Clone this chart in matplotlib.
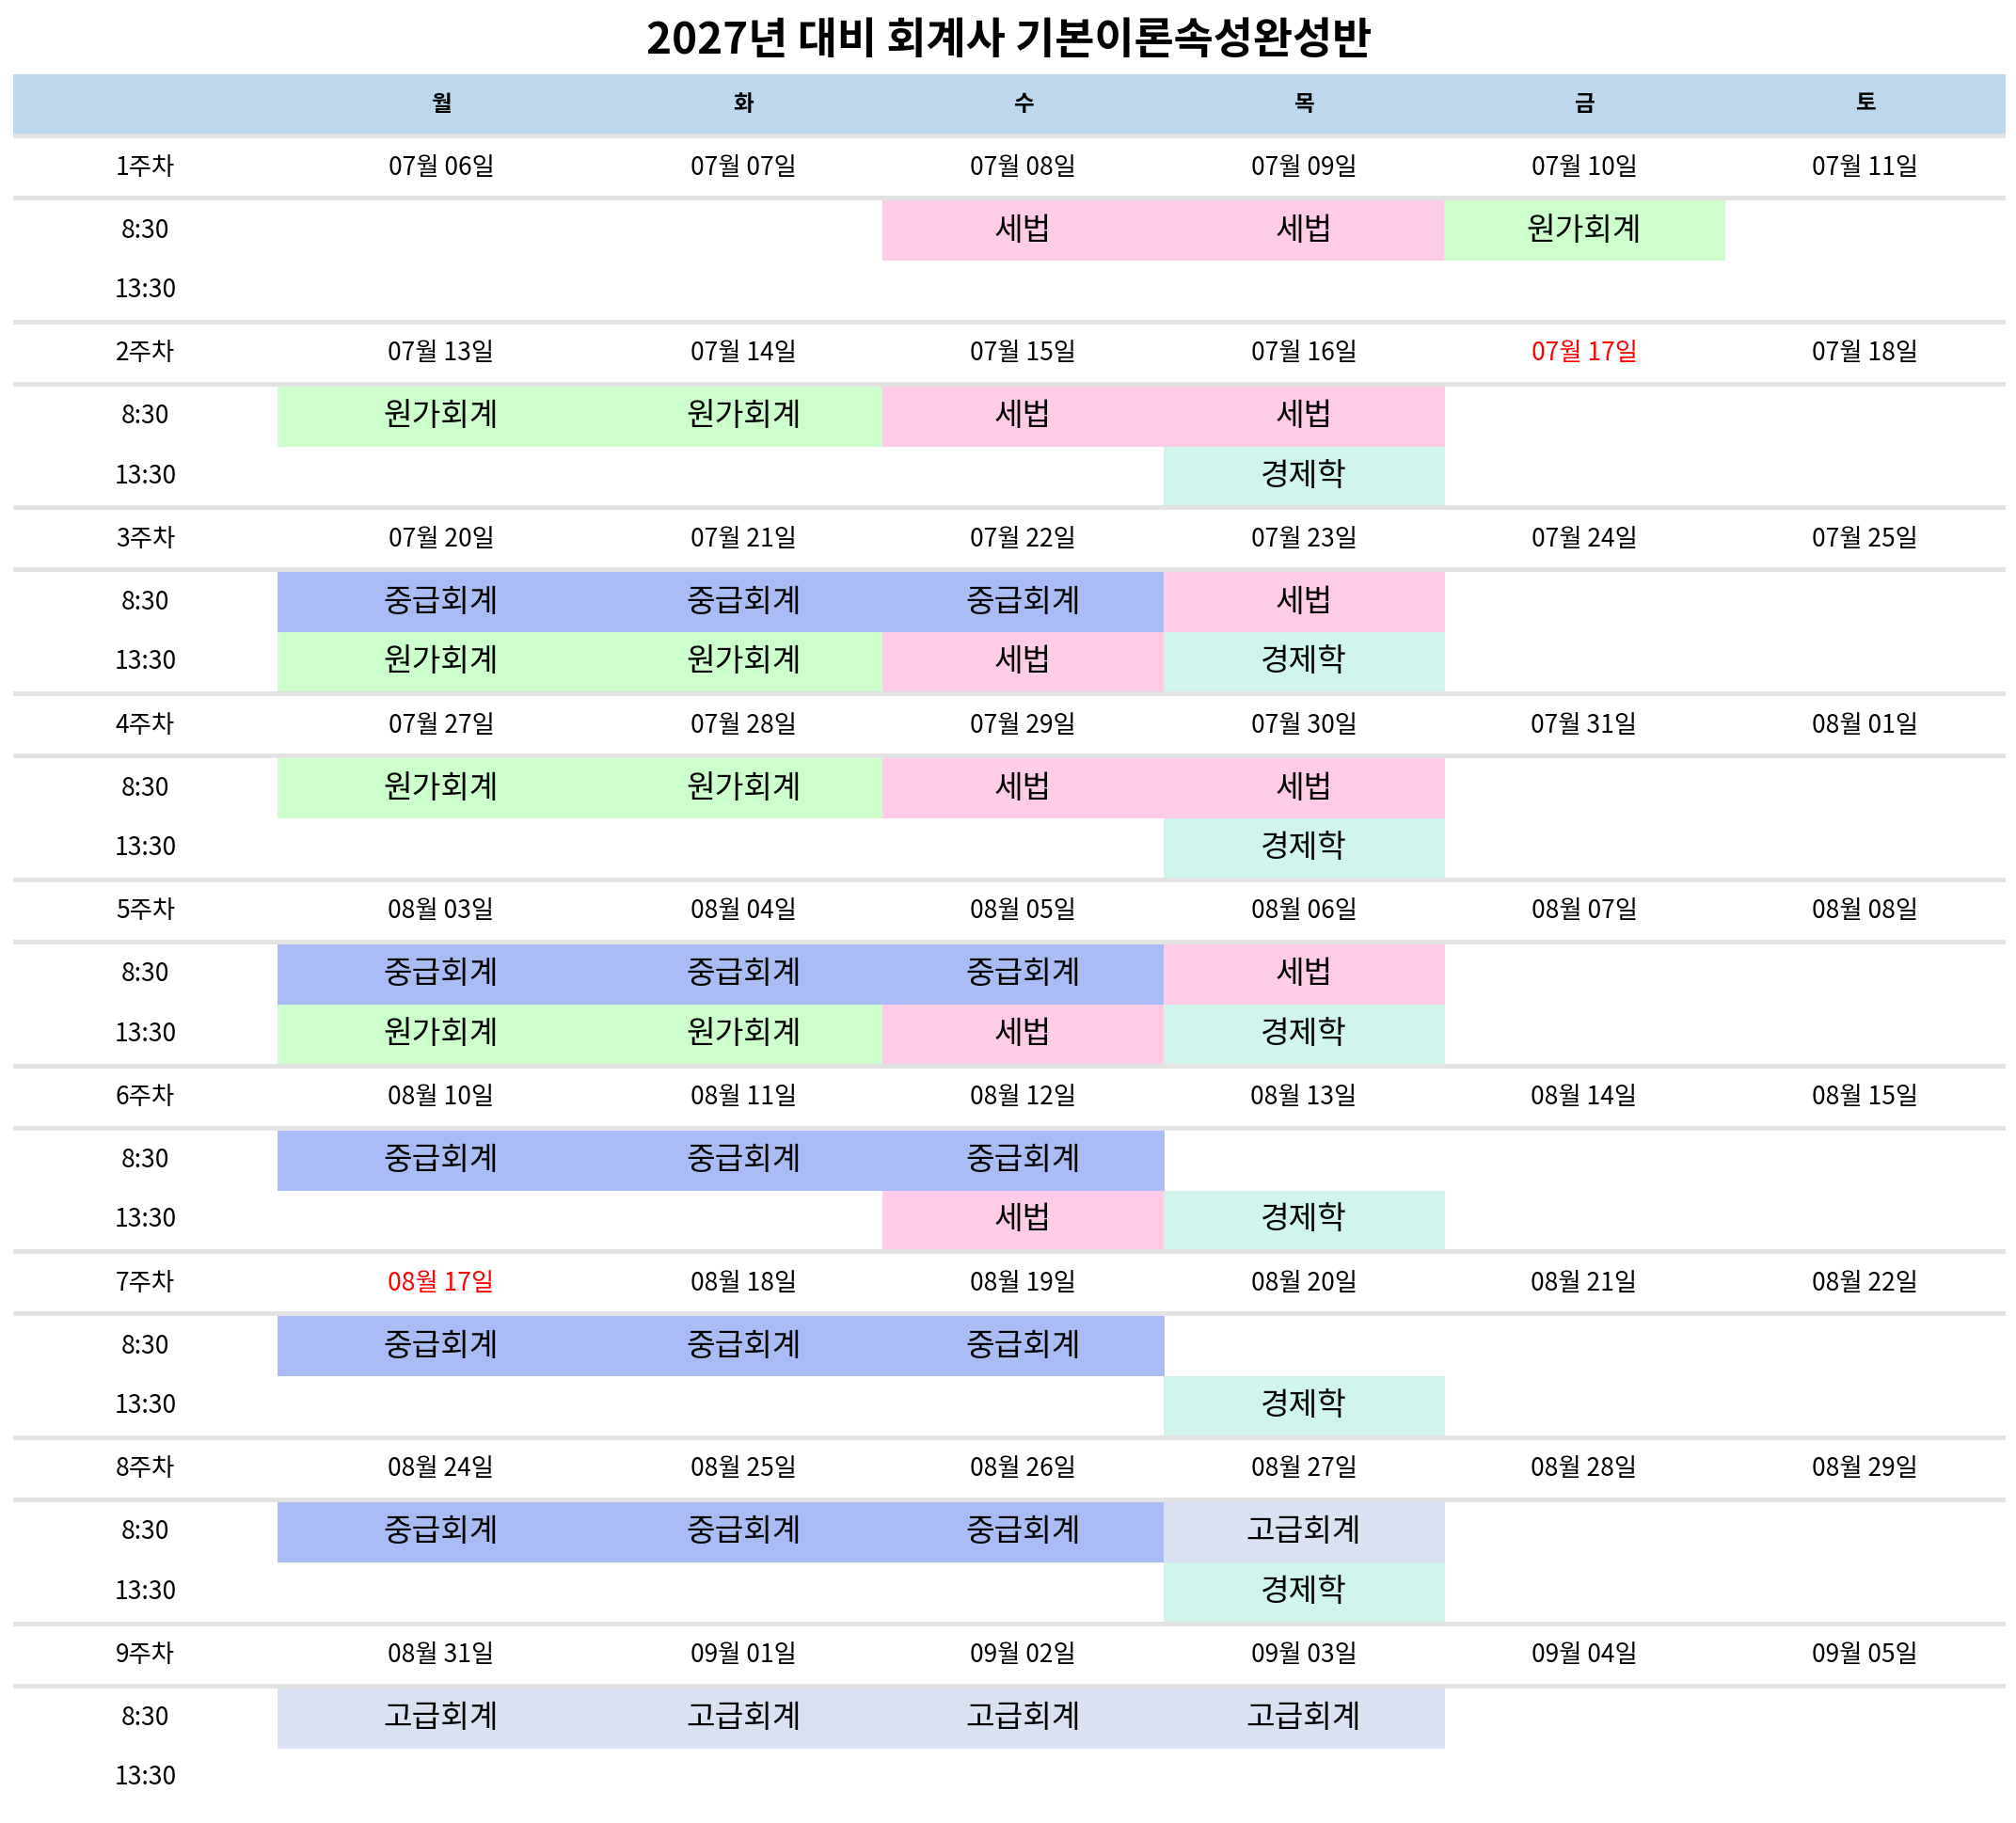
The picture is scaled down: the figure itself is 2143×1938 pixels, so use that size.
import matplotlib
matplotlib.use("Agg")
import matplotlib.pyplot as plt
from matplotlib.patches import Rectangle

plt.rcParams['font.family'] = ['Noto Sans CJK KR', 'DejaVu Sans']

title = "2027년 대비 회계사 기본이론속성완성반"
days = ['월', '화', '수', '목', '금', '토']
weeks = ['1주차', '2주차', '3주차', '4주차', '5주차', '6주차', '7주차', '8주차', '9주차']
times = ['8:30', '13:30']

dates = [
    ['07월 06일', '07월 07일', '07월 08일', '07월 09일', '07월 10일', '07월 11일'],
    ['07월 13일', '07월 14일', '07월 15일', '07월 16일', '07월 17일', '07월 18일'],
    ['07월 20일', '07월 21일', '07월 22일', '07월 23일', '07월 24일', '07월 25일'],
    ['07월 27일', '07월 28일', '07월 29일', '07월 30일', '07월 31일', '08월 01일'],
    ['08월 03일', '08월 04일', '08월 05일', '08월 06일', '08월 07일', '08월 08일'],
    ['08월 10일', '08월 11일', '08월 12일', '08월 13일', '08월 14일', '08월 15일'],
    ['08월 17일', '08월 18일', '08월 19일', '08월 20일', '08월 21일', '08월 22일'],
    ['08월 24일', '08월 25일', '08월 26일', '08월 27일', '08월 28일', '08월 29일'],
    ['08월 31일', '09월 01일', '09월 02일', '09월 03일', '09월 04일', '09월 05일'],
]
holidays = ['07월 17일', '08월 17일']

# short names for the subjects
T, W, G, J, E, K = '세법', '원가회계', '경제학', '중급회계', '고급회계', None
am_classes = [
    [K, K, T, T, W, K],
    [W, W, T, T, K, K],
    [J, J, J, T, K, K],
    [W, W, T, T, K, K],
    [J, J, J, T, K, K],
    [J, J, J, K, K, K],
    [J, J, J, K, K, K],
    [J, J, J, E, K, K],
    [E, E, E, E, K, K],
]
pm_classes = [
    [K, K, K, K, K, K],
    [K, K, K, G, K, K],
    [W, W, T, G, K, K],
    [K, K, K, G, K, K],
    [W, W, T, G, K, K],
    [K, K, T, G, K, K],
    [K, K, K, G, K, K],
    [K, K, K, G, K, K],
    [K, K, K, K, K, K],
]

subject_colors = {
    '세법': '#FFCCE8',
    '원가회계': '#CCFFCC',
    '경제학': '#CFF5EC',
    '중급회계': '#A9BCF5',
    '고급회계': '#D9E1F2',
}

# layout in pixels
fig_w, fig_h = 2143, 1938
left, right = 14, 2132
col_edges = [14, 295, 643, 938, 1237, 1535, 1833, 2132]
head_top, head_bot = 79, 142
week_h = 197.7

fig = plt.figure(figsize=(fig_w / 100, fig_h / 100), dpi=100)
ax = fig.add_axes([0, 0, 1, 1])
ax.set_xlim(0, fig_w)
ax.set_ylim(fig_h, 0)
ax.axis('off')

ax.text((left + right) / 2, 44, title, ha='center', va='center',
        fontsize=33, fontweight='bold', color='black')

# header band
ax.add_patch(Rectangle((left, head_top), right - left, head_bot - head_top,
                       facecolor='#BDD7EE', edgecolor='none'))
for i, d in enumerate(days):
    cx = (col_edges[i + 1] + col_edges[i + 2]) / 2
    ax.text(cx, (head_top + head_bot) / 2, d, ha='center', va='center',
            fontsize=17, fontweight='bold')

label_x = (col_edges[0] + col_edges[1]) / 2

for w, wk in enumerate(weeks):
    base = head_bot + w * week_h
    # gray separator lines around date row
    for yy in (base, base + 66):
        ax.add_patch(Rectangle((left, yy), right - left, 5,
                               facecolor='#E3E3E3', edgecolor='none'))
    ax.text(label_x, base + 36, wk, ha='center', va='center', fontsize=19)
    for i in range(6):
        cx = (col_edges[i + 1] + col_edges[i + 2]) / 2
        txt = dates[w][i]
        col = 'red' if txt in holidays else 'black'
        ax.text(cx, base + 36, txt, ha='center', va='center', fontsize=19, color=col)

    rows = [(base + 71, base + 135, am_classes[w]),
            (base + 135, base + week_h, pm_classes[w])]
    for r, (y0, y1, subj) in enumerate(rows):
        ax.text(label_x, (y0 + y1) / 2, times[r], ha='center', va='center', fontsize=19)
        for i, s in enumerate(subj):
            if s is None:
                continue
            x0, x1 = col_edges[i + 1], col_edges[i + 2]
            ax.add_patch(Rectangle((x0, y0), x1 - x0 + 0.8, y1 - y0 + 0.3,
                                   facecolor=subject_colors[s], edgecolor='none',
                                   linewidth=0))
            ax.text((x0 + x1) / 2, (y0 + y1) / 2, s, ha='center', va='center',
                    fontsize=24)

fig.savefig('out.png', dpi=100, facecolor='white')
